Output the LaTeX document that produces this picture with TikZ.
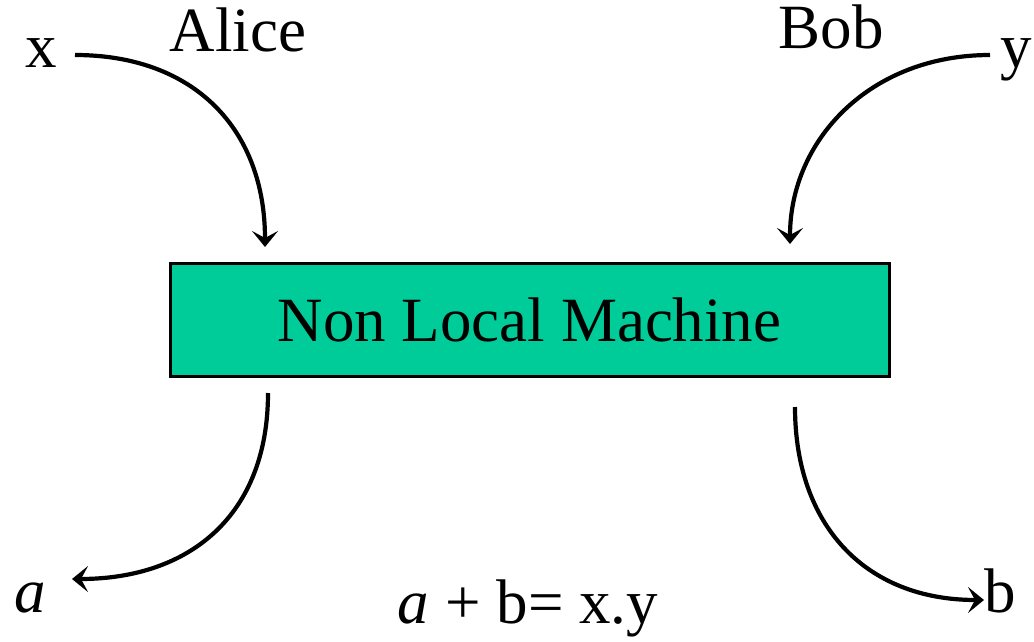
\documentclass[tikz,border=0pt]{standalone}
\usepackage{fontspec}
\setmainfont{Liberation Serif}
\usetikzlibrary{arrows.meta}
\definecolor{boxgreen}{HTML}{00CC99}
\begin{document}
\begin{tikzpicture}[x=1pt,y=-1pt,
  lbl/.style={anchor=base,inner sep=0pt,font=\fontsize{63}{70}\selectfont},
  flow/.style={line width=4.2pt,-{Stealth[length=16pt,width=26pt,inset=7pt]}},
  machine/.style={draw=black,line width=3pt,fill=boxgreen,minimum width=719pt,minimum height=113pt,inner sep=0pt,font=\fontsize{63}{70}\selectfont}]
\useasboundingbox (0,0) rectangle (1034,642);
\node[lbl] (xin) at (41,68) {x};
\node[lbl] (alice) at (238,52) {Alice};
\node[lbl] (bob) at (831,49) {Bob};
\node[lbl] (yin) at (1016,68) {y};
\node[lbl] (aout) at (30,612) {\textit{a}};
\node[lbl] (bout) at (1000,612) {b};
\node[lbl] (rel) at (528,623) {\textit{a} + b= x.y};
\node[machine] (nlm) at (529.5,319.5) {Non Local Machine};
\coordinate (xs) at (75,55);
\coordinate (xe) at (265,247);
\coordinate (ys) at (990,55);
\coordinate (ye) at (790,244);
\coordinate (as) at (268,393);
\coordinate (ae) at (72,579);
\coordinate (bs) at (795,407);
\coordinate (be) at (984,600);
\draw[flow] (xs) .. controls (195,55) and (265,130) .. (xe);
\draw[flow] (ys) .. controls (870,55) and (790,140) .. (ye);
\draw[flow] (as) .. controls (268,515) and (190,579) .. (ae);
\draw[flow] (bs) .. controls (795,525) and (865,600) .. (be);
\end{tikzpicture}
\end{document}
